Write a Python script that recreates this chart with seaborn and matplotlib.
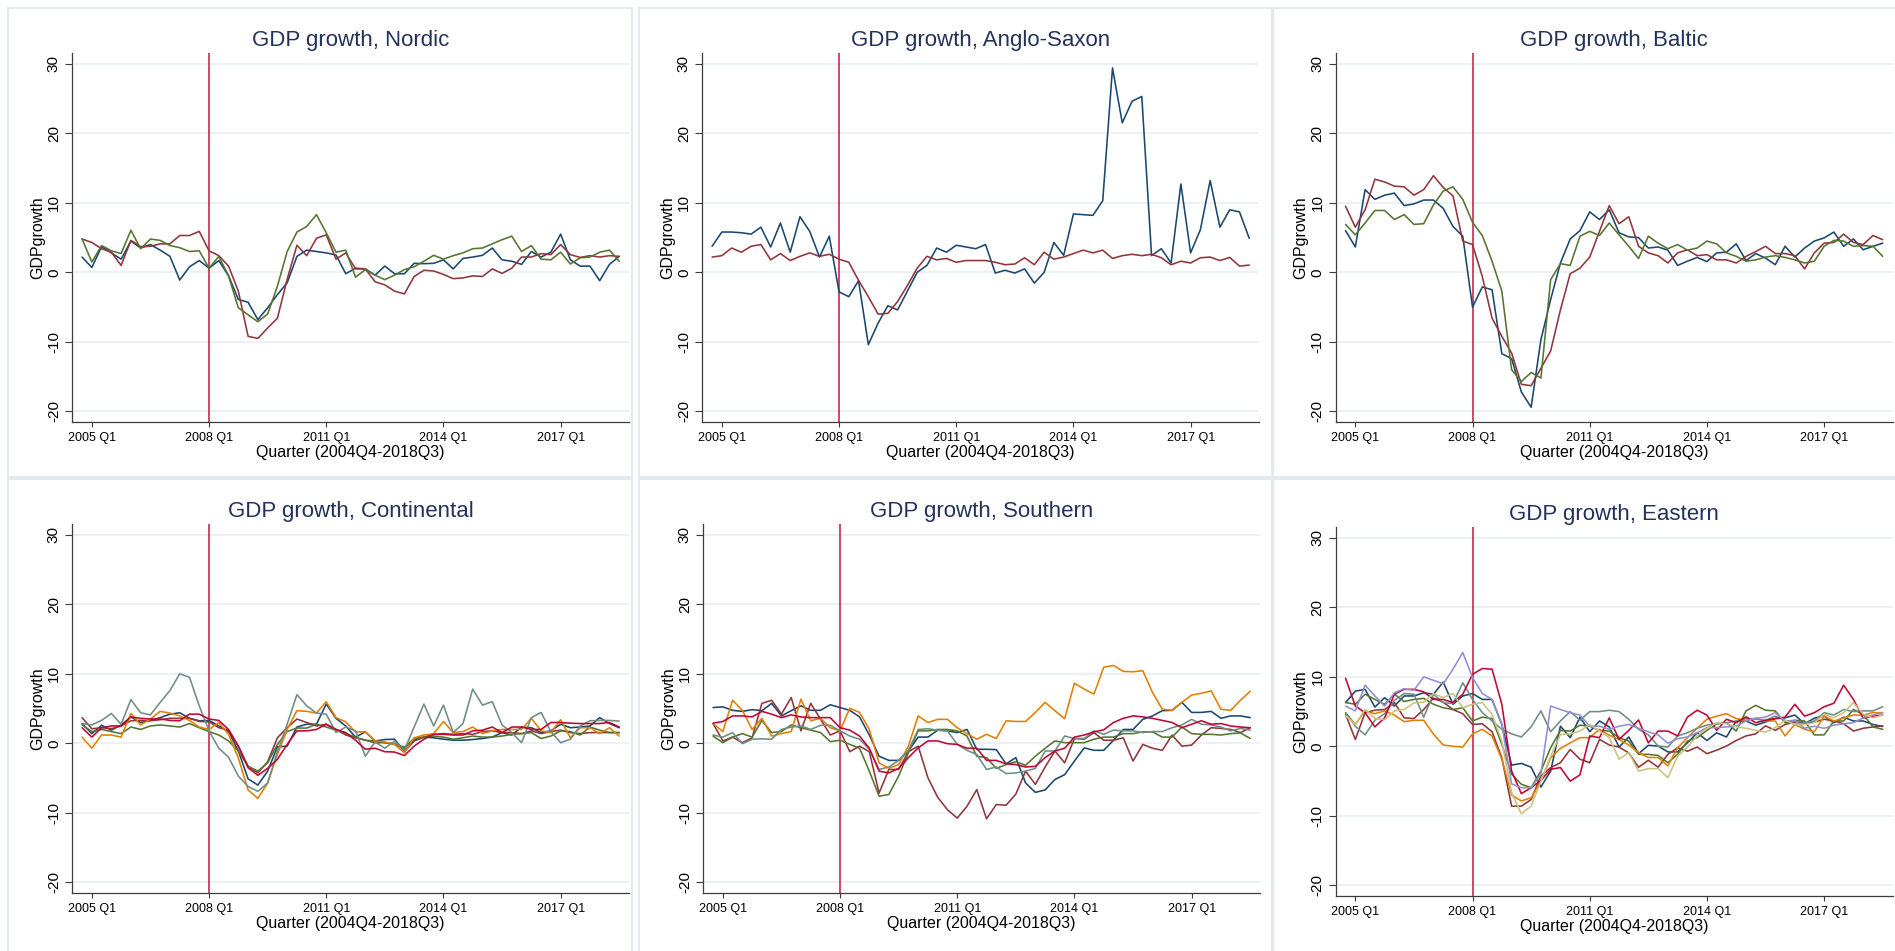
import matplotlib
matplotlib.use("Agg")
import matplotlib.pyplot as plt
from matplotlib.patches import Rectangle
import seaborn as sns
import pandas as pd
import numpy as np

# ---------------- data ----------------
QUARTERS = [f"{y}Q{q}" for y in range(2004, 2019) for q in range(1, 5)][3:59]  # 2004Q4..2018Q3
TICK_LABELS = ["2005 Q1", "2008 Q1", "2011 Q1", "2014 Q1", "2017 Q1"]
CRISIS_QUARTER = "2008Q1"
Y_TICKS = [-20, -10, 0, 10, 20, 30]
X_TITLE = "Quarter (2004Q4-2018Q3)"
Y_TITLE = "GDPgrowth"

NORDIC_1 = [2.2, 0.7, 3.7, 2.8, 1.9, 4.5, 3.5, 4.0, 3.2, 2.3,
            -1.1, 0.8, 1.7, 0.6, 1.7, -0.5, -3.9, -4.3, -6.8, -5.1,
            -3.2, -1.5, 2.3, 3.2, 3.0, 2.8, 2.5, -0.2, 0.6, 0.5,
            -0.4, 0.9, -0.2, -0.2, 1.3, 1.25, 1.3, 1.8, 0.5, 2.0,
            2.2, 2.45, 3.5, 1.8, 1.6, 1.15, 3.0, 2.2, 2.9, 5.5,
            1.8, 0.9, 0.9, -1.2, 1.15, 2.3]
NORDIC_2 = [4.8, 4.3, 3.4, 2.9, 1.0, 4.6, 3.7, 3.75, 4.1, 4.1,
            5.3, 5.3, 5.9, 3.1, 2.4, 0.9, -2.7, -9.2, -9.5, -8.0,
            -6.6, -1.0, 3.9, 2.4, 4.9, 5.4, 1.9, 2.8, 0.5, 0.5,
            -1.35, -1.8, -2.7, -3.1, -0.6, 0.3, 0.2, -0.3, -0.9, -0.8,
            -0.5, -0.6, 0.5, -0.15, 0.6, 2.2, 2.2, 2.7, 2.55, 4.0,
            2.55, 2.15, 2.4, 2.2, 2.4, 2.3]
NORDIC_3 = [4.8, 1.5, 3.85, 3.1, 2.7, 6.05, 3.4, 4.8, 4.6, 3.85,
            3.55, 3.0, 3.1, 0.6, 2.3, -0.5, -5.1, -6.1, -7.1, -6.0,
            -2.0, 3.0, 5.8, 6.6, 8.3, 5.7, 2.9, 3.2, -0.7, 0.4,
            -0.4, -1.05, -0.4, 0.4, 0.8, 1.6, 2.45, 1.9, 2.4, 2.8,
            3.4, 3.5, 4.1, 4.7, 5.2, 3.0, 3.85, 1.9, 1.8, 2.9,
            1.2, 2.1, 2.2, 2.9, 3.2, 1.6]

ANGLO_1 = [3.75, 5.8, 5.8, 5.7, 5.5, 6.5, 3.65, 7.1, 2.9, 8.0,
           5.9, 2.2, 5.2, -2.8, -3.5, -1.2, -10.4, -7.3, -4.8, -5.4,
           -2.7, 0.0, 1.0, 3.5, 2.9, 3.9, 3.65, 3.4, 4.0, -0.1,
           0.3, -0.1, 0.5, -1.55, 0.0, 4.3, 2.45, 8.4, 8.3, 8.2,
           10.3, 29.4, 21.5, 24.6, 25.3, 2.4, 3.4, 1.35, 12.7, 2.8,
           6.15, 13.2, 6.5, 9.0, 8.7, 4.9]
ANGLO_2 = [2.2, 2.4, 3.5, 2.9, 3.75, 4.0, 1.8, 2.7, 1.7, 2.3,
           2.8, 2.3, 2.6, 1.9, 1.45, -1.15, -3.5, -6.0, -5.9, -4.2,
           -1.9, 0.6, 2.3, 1.8, 2.0, 1.45, 1.7, 1.7, 1.7, 1.45,
           1.1, 1.2, 2.1, 1.1, 2.9, 1.9, 2.2, 2.7, 3.2, 2.8,
           3.2, 2.0, 2.4, 2.6, 2.4, 2.6, 2.1, 1.1, 1.6, 1.35,
           2.1, 2.2, 1.7, 2.15, 0.9, 1.05]

BALTIC_1 = [6.0, 3.65, 11.9, 10.5, 11.1, 11.4, 9.6, 9.85, 10.4, 10.4,
            9.2, 6.6, 5.2, -5.0, -2.1, -2.5, -11.7, -12.4, -17.2, -19.4,
            -9.7, -3.9, 1.35, 4.8, 6.0, 8.7, 7.6, 9.0, 5.7, 5.1,
            5.0, 3.5, 3.65, 3.2, 1.0, 1.6, 2.15, 1.55, 2.8, 2.9,
            4.1, 1.7, 2.7, 2.05, 1.1, 3.75, 2.2, 3.5, 4.5, 4.95,
            5.8, 3.75, 4.8, 3.25, 3.75, 4.2]
BALTIC_2 = [9.5, 6.5, 9.0, 13.4, 13.0, 12.4, 12.3, 11.1, 11.9, 13.9,
            12.2, 11.0, 4.5, 4.0, -0.6, -6.6, -9.2, -11.6, -16.1, -16.3,
            -13.8, -11.3, -5.4, -0.2, 0.6, 2.2, 5.9, 9.6, 7.0, 8.0,
            3.75, 2.8, 2.4, 1.35, 2.8, 3.25, 2.4, 2.55, 1.8, 1.8,
            1.35, 2.3, 3.0, 3.75, 2.7, 2.7, 2.4, 0.5, 2.8, 4.2,
            4.3, 5.5, 4.3, 4.0, 5.3, 4.7]
BALTIC_3 = [6.9, 5.4, 7.1, 8.9, 8.9, 7.6, 8.3, 6.9, 7.0, 9.7,
            11.7, 12.3, 10.5, 7.2, 5.3, 1.6, -2.7, -14.0, -15.7, -14.4,
            -15.2, -1.05, 1.25, 1.0, 5.2, 5.9, 5.3, 7.1, 5.4, 3.75,
            2.0, 5.2, 4.2, 3.4, 4.0, 3.2, 3.5, 4.5, 4.1, 2.8,
            2.3, 1.6, 1.8, 2.2, 2.4, 2.15, 1.8, 1.35, 1.6, 3.75,
            4.6, 4.5, 3.75, 3.85, 3.75, 2.3]

CONT_1 = [2.85, 1.4, 2.6, 1.9, 2.65, 3.8, 3.0, 3.3, 3.7, 4.2,
          4.4, 3.6, 3.25, 3.3, 2.5, 1.7, -1.1, -5.1, -6.0, -4.0,
          -0.5, -0.4, 2.35, 2.75, 2.75, 5.65, 3.6, 2.5, 0.9, 1.65,
          0.35, 0.55, 0.6, -1.2, 0.35, 0.9, 0.8, 0.6, 0.45, 0.45,
          0.55, 0.7, 0.9, 1.55, 1.2, 2.35, 2.25, 1.55, 1.8, 2.75,
          2.25, 2.35, 2.5, 3.7, 2.85, 2.25]
CONT_2 = [3.7, 2.1, 2.25, 2.1, 2.5, 3.25, 3.3, 3.25, 3.4, 3.6,
          3.6, 3.6, 3.15, 3.1, 2.25, 1.9, -0.4, -3.3, -4.25, -2.65,
          0.8, 2.25, 3.5, 3.0, 2.5, 2.75, 2.0, 1.2, 0.8, 0.45,
          0.1, 0.1, -0.15, -0.7, 0.45, 0.9, 1.3, 1.4, 1.3, 1.4,
          1.3, 1.7, 1.8, 1.55, 1.55, 1.4, 1.8, 1.4, 1.7, 1.9,
          1.55, 1.4, 1.55, 1.55, 1.55, 1.55]
CONT_3 = [2.65, 1.7, 2.0, 1.7, 1.4, 2.35, 2.0, 2.5, 2.65, 2.5,
          2.35, 2.85, 2.25, 1.7, 1.2, 0.35, -1.1, -3.3, -4.0, -2.8,
          -0.15, 1.7, 2.2, 2.2, 2.75, 2.35, 1.9, 1.4, 0.9, 0.45,
          0.35, 0.1, -0.05, -0.55, 0.7, 0.9, 1.05, 0.9, 0.6, 0.8,
          1.05, 0.9, 0.9, 1.05, 1.3, 1.4, 1.55, 0.7, 1.05, 1.8,
          1.7, 1.2, 2.35, 1.9, 1.55, 1.55]
CONT_4 = [0.9, -0.7, 1.2, 1.2, 0.9, 4.3, 2.65, 3.5, 4.6, 4.35,
          3.95, 3.3, 2.35, 2.0, 3.0, 1.3, -2.1, -6.7, -7.9, -5.7,
          -1.6, 2.0, 4.7, 4.6, 4.35, 6.0, 3.7, 3.1, 1.65, 1.65,
          0.35, 0.2, -0.15, -1.35, 0.8, 1.2, 1.4, 3.15, 1.55, 1.7,
          2.35, 1.4, 1.8, 2.0, 2.0, 2.0, 3.6, 1.8, 1.55, 3.4,
          0.8, 2.25, 2.25, 1.4, 2.25, 1.05]
CONT_5 = [2.85, 2.65, 3.3, 4.3, 2.75, 6.3, 4.4, 4.1, 5.9, 7.6,
          10.0, 9.5, 5.4, 1.8, -0.7, -2.0, -4.7, -6.2, -6.9, -5.7,
          -1.2, 2.75, 7.0, 5.4, 4.35, 4.2, 1.55, 2.35, 1.8, -1.85,
          0.2, -0.7, 0.35, -1.0, 2.35, 5.65, 2.5, 5.5, 1.55, 2.85,
          7.8, 5.5, 6.0, 2.65, 1.55, 0.1, 3.7, 4.45, 1.7, 0.1,
          0.6, 2.5, 3.25, 3.3, 3.3, 3.2]
CONT_6 = [2.25, 0.9, 2.25, 2.5, 2.5, 3.8, 3.6, 3.5, 3.5, 3.3,
          3.25, 4.2, 4.2, 3.5, 3.3, 2.0, -0.4, -3.5, -4.6, -3.6,
          -2.3, -0.15, 1.8, 1.8, 2.0, 2.75, 2.0, 1.55, 0.45, -0.85,
          -0.7, -1.2, -1.25, -1.75, -0.4, 0.6, 1.3, 1.3, 1.2, 1.2,
          1.8, 1.9, 2.35, 1.55, 2.35, 2.35, 2.0, 2.0, 3.0, 3.0,
          2.9, 2.85, 2.85, 2.85, 3.0, 2.35]

SOUTH_1 = [5.15, 5.25, 4.75, 4.6, 4.85, 4.7, 5.75, 3.95, 4.7, 5.4,
           4.75, 4.75, 5.55, 5.15, 4.75, 3.8, 1.2, -1.85, -2.45, -2.45,
           -1.1, 0.9, 0.9, 1.9, 1.8, 1.55, 2.0, -0.85, -0.85, -0.9,
           -2.95, -2.05, -5.7, -7.05, -6.7, -5.2, -4.5, -2.55, -0.65, -1.0,
           -1.0, 0.45, 2.0, 2.0, 3.45, 3.95, 4.7, 4.75, 5.9, 4.45,
           4.45, 4.6, 3.6, 3.95, 3.95, 3.7]
SOUTH_2 = [2.85, 0.35, 0.9, 0.1, 0.8, 5.75, 6.2, 4.2, 6.6, 1.8,
           5.75, 3.5, 1.2, 1.8, -1.2, -0.4, -1.2, -7.15, -3.75, -3.75,
           -1.2, -0.4, -4.95, -7.75, -9.55, -10.75, -9.05, -6.65, -10.85, -8.8,
           -8.9, -7.3, -4.0, -5.9, -3.4, -1.1, -2.8, 0.7, 0.6, 1.55,
           0.45, 0.45, 0.8, -2.55, -0.15, -0.7, -1.0, 1.2, -0.4, -0.25,
           1.2, 2.25, 2.15, 2.0, 1.55, 2.25]
SOUTH_3 = [1.05, 0.1, 0.9, 1.4, 0.9, 3.3, 1.55, 1.7, 2.65, 2.25,
           1.9, 1.55, 0.25, 0.45, -0.15, -0.7, -4.0, -7.6, -7.35, -4.7,
           -1.35, 1.8, 1.8, 2.0, 2.0, 1.8, 1.05, -1.85, -2.05, -3.6,
           -3.05, -2.65, -3.15, -1.85, -0.7, 0.35, 0.1, 0.1, 0.1, 0.6,
           0.9, 0.9, 1.4, 1.4, 1.65, 1.65, 0.9, 0.9, 2.35, 1.4,
           1.3, 1.3, 1.2, 1.4, 1.5, 0.7]
SOUTH_4 = [2.85, 1.7, 6.2, 4.75, 2.0, 3.6, 1.05, 1.4, 1.7, 6.35,
           3.25, 3.6, 2.25, 1.8, 5.05, 4.45, 2.0, -2.8, -3.6, -3.05,
           -0.4, 3.95, 3.0, 3.45, 3.45, 2.25, 1.4, 0.6, 1.3, 0.7,
           3.25, 3.15, 3.15, 4.45, 5.9, 4.7, 3.55, 8.65, 7.8, 7.1,
           10.95, 11.2, 10.35, 10.3, 10.45, 7.3, 4.9, 4.75, 5.9, 6.95,
           7.2, 7.55, 4.9, 4.75, 6.2, 7.5]
SOUTH_5 = [1.2, 0.9, 1.55, -0.05, 0.6, 0.65, 0.6, 2.0, 2.35, 2.5,
           2.0, 2.6, 2.6, 1.8, 1.05, 0.6, -0.85, -3.75, -3.4, -2.45,
           -1.0, 2.0, 2.1, 1.9, 1.8, -0.15, -1.0, -1.6, -3.75, -3.4,
           -4.35, -4.25, -4.0, -3.6, -1.1, -1.1, 1.05, 0.7, 0.7, 1.8,
           1.3, 1.9, 1.8, 1.8, 1.55, 1.7, 1.7, 2.25, 2.65, 3.45,
           2.75, 2.65, 2.35, 1.8, 2.15, 1.9]
SOUTH_6 = [2.9, 3.15, 3.95, 3.95, 3.8, 4.6, 4.2, 3.7, 4.1, 3.8,
           3.7, 3.7, 3.7, 2.25, 1.9, 1.05, -0.7, -4.0, -4.25, -3.6,
           -2.05, -0.65, 0.35, 0.35, -0.05, -0.15, -0.7, -0.7, -2.45, -2.45,
           -2.95, -3.05, -3.4, -3.3, -2.05, -1.1, -0.7, 0.9, 1.2, 1.65,
           1.95, 3.0, 3.6, 3.95, 3.8, 3.6, 3.3, 3.0, 2.25, 2.75,
           3.25, 2.75, 2.85, 2.5, 2.35, 2.25]

EAST_1 = [6.3, 7.95, 8.2, 5.65, 7.0, 5.8, 7.25, 7.25, 7.7, 7.5,
          9.25, 6.05, 7.25, 7.6, 6.75, 6.75, 3.15, -2.7, -2.45, -3.0,
          -5.85, -3.55, 2.9, 1.25, 4.2, 2.1, 3.65, 2.8, -0.1, 1.35,
          -1.05, 0.15, 0.05, -0.8, -0.8, 0.5, 1.95, 0.85, 1.95, 1.35,
          3.65, 3.65, 3.05, 3.5, 4.0, 4.1, 4.5, 3.25, 4.05, 4.35,
          3.4, 4.2, 3.65, 3.65, 3.15, 2.85]
EAST_2 = [4.6, 1.0, 4.85, 5.2, 5.3, 6.3, 4.1, 4.0, 5.3, 6.95,
          6.35, 5.3, 4.7, 3.15, 3.25, 2.1, -1.65, -8.6, -8.6, -7.65,
          -4.25, -3.05, -2.35, -0.45, -1.85, -2.35, 1.0, 0.2, -0.1, -0.95,
          -3.0, -2.0, -3.0, -1.15, -0.2, -0.7, -0.1, -1.05, -0.55, 0.05,
          0.85, 1.5, 1.8, 2.95, 2.3, 3.15, 3.5, 3.4, 3.5, 3.9,
          3.65, 3.25, 2.2, 2.6, 2.8, 2.95]
EAST_3 = [6.3, 6.05, 7.5, 6.75, 6.05, 7.5, 6.45, 6.75, 6.9, 6.05,
          5.55, 5.3, 5.55, 3.65, 4.2, 4.0, 0.3, -4.0, -5.45, -5.95,
          -3.55, -0.2, 2.3, 2.2, 3.05, 2.9, 2.3, 2.2, 1.25, 0.75,
          -1.15, -1.15, -1.3, -2.35, -1.15, 0.75, 1.25, 2.3, 3.25, 3.4,
          2.2, 5.1, 5.9, 5.2, 5.1, 3.4, 3.75, 3.65, 1.65, 1.65,
          3.65, 3.65, 5.3, 4.6, 2.8, 2.45]
EAST_4 = [4.85, 3.15, 5.1, 4.7, 5.1, 4.5, 3.55, 3.75, 3.75, 1.75,
          0.2, 0.0, -0.1, 1.8, 2.45, 1.5, -1.85, -7.0, -7.85, -7.4,
          -5.0, -1.65, -0.3, 0.5, 1.25, 1.25, 2.45, 1.6, 1.0, 0.2,
          -0.9, -1.6, -1.6, -2.8, -0.2, 1.25, 2.6, 3.9, 4.35, 4.7,
          4.0, 3.75, 4.05, 3.65, 3.65, 1.5, 3.15, 2.45, 2.1, 4.35,
          3.65, 4.1, 4.5, 4.5, 4.85, 4.85]
EAST_5 = [4.85, 2.9, 1.65, 3.75, 4.7, 6.6, 7.6, 7.5, 4.2, 7.5,
          6.3, 6.15, 9.15, 6.75, 4.85, 3.65, 2.45, 1.8, 1.35, 2.8,
          5.1, 2.1, 3.65, 5.0, 3.75, 5.0, 5.0, 5.2, 5.0, 3.9,
          2.45, 1.65, 0.05, -0.1, 1.5, 1.95, 2.6, 3.05, 3.25, 3.4,
          3.65, 4.05, 3.9, 3.75, 4.35, 3.75, 3.15, 3.4, 3.65, 4.85,
          4.5, 5.3, 5.0, 5.1, 5.1, 5.7]
EAST_6 = [9.8, 5.8, 4.85, 2.8, 4.1, 7.5, 8.2, 8.2, 7.85, 6.75,
          6.75, 6.3, 7.5, 10.35, 11.2, 11.1, 6.05, -3.55, -6.8, -5.95,
          -4.9, -3.3, -3.05, -5.0, -4.1, 1.5, 1.25, 4.1, 1.0, 2.3,
          3.8, 0.5, 2.2, 2.2, 1.5, 4.2, 5.2, 4.5, 2.3, 3.9,
          3.4, 4.25, 3.4, 3.75, 4.0, 4.2, 6.05, 4.35, 4.85, 5.7,
          6.2, 8.8, 6.75, 4.05, 4.35, 4.5]
EAST_7 = [5.8, 5.1, 8.8, 7.25, 5.8, 7.7, 8.3, 8.05, 10.0, 9.5,
          9.0, 11.1, 13.5, 9.9, 7.6, 6.75, 3.15, -5.4, -5.95, -5.95,
          -4.0, 5.8, 5.3, 4.85, 4.5, 2.9, 2.9, 2.45, 2.9, 3.15,
          2.6, 2.1, 1.65, 0.45, 1.1, 1.35, 1.95, 2.7, 2.7, 2.8,
          2.9, 3.65, 4.05, 4.2, 4.85, 3.65, 3.75, 2.6, 2.9, 2.6,
          3.05, 3.25, 3.4, 4.1, 4.5, 4.85]
EAST_8 = [4.4, 3.15, 5.3, 4.0, 3.85, 5.1, 5.3, 6.25, 6.35, 7.6,
          7.0, 7.6, 5.55, 6.05, 6.3, 4.6, 0.75, -6.65, -9.7, -8.6,
          -5.0, -1.4, 1.7, 1.8, 2.2, 3.15, 2.2, 1.25, -1.85, -0.9,
          -3.55, -3.2, -3.2, -4.5, -1.4, -0.1, 1.5, 2.6, 3.4, 3.25,
          2.8, 2.6, 2.3, 2.05, 2.7, 3.75, 3.15, 3.15, 3.4, 4.6,
          4.1, 4.85, 6.3, 4.6, 4.1, 4.5]

TITLES = ["GDP growth, Nordic", "GDP growth, Anglo-Saxon", "GDP growth, Baltic",
          "GDP growth, Continental", "GDP growth, Southern", "GDP growth, Eastern"]
PANEL_SERIES = [
    [NORDIC_1, NORDIC_2, NORDIC_3],
    [ANGLO_1, ANGLO_2],
    [BALTIC_1, BALTIC_2, BALTIC_3],
    [CONT_1, CONT_2, CONT_3, CONT_4, CONT_5, CONT_6],
    [SOUTH_1, SOUTH_2, SOUTH_3, SOUTH_4, SOUTH_5, SOUTH_6],
    [EAST_1, EAST_2, EAST_3, EAST_4, EAST_5, EAST_6, EAST_7, EAST_8],
]

# ---------------- style ----------------
SERIES_COLORS = ["#1a476f", "#90353b", "#55752f", "#e37e00",
                 "#6e8e84", "#c10534", "#938dd2", "#cac27e"]
TITLE_COLOR = "#23325a"
VLINE_COLOR = "#c8143c"
GRID_COLOR = "#e6eef1"
FRAME_COLOR = "#e0e8ec"

sns.set_style("white")
plt.rcParams["font.family"] = ["Liberation Sans", "DejaVu Sans"]

W, H = 1895, 951
fig = plt.figure(figsize=(W / 100, H / 100), dpi=100)
fig.patch.set_facecolor("white")

# panel frames (pixel boxes: x0, y0, x1, y1 from top-left)
FRAMES = [(8, 8, 632, 477), (639, 8, 1272, 477), (1273, 8, 1900, 477),
          (8, 479, 632, 960), (639, 479, 1272, 960), (1273, 479, 1900, 960)]
for x0, y0, x1, y1 in FRAMES:
    fig.add_artist(Rectangle((x0 / W, 1 - y1 / H), (x1 - x0) / W, (y1 - y0) / H,
                             transform=fig.transFigure, fill=False,
                             ec=FRAME_COLOR, lw=1.3, zorder=0))

AX_W, AX_H = 557, 368.5
AX_POS = [(72, 53), (702, 53), (1335.5, 53),
          (72, 524), (703, 524), (1335.5, 527)]

q_idx = np.arange(len(QUARTERS))
tick_pos = [QUARTERS.index(t.replace(" ", "")) for t in TICK_LABELS]
crisis_pos = QUARTERS.index(CRISIS_QUARTER)

for title, series, (left, top) in zip(TITLES, PANEL_SERIES, AX_POS):
    ax = fig.add_axes([left / W, 1 - (top + AX_H) / H, AX_W / W, AX_H / H])
    rows = []
    for k, vals in enumerate(series):
        rows.append(pd.DataFrame({"q": q_idx, "growth": vals, "series": f"s{k}"}))
    df = pd.concat(rows, ignore_index=True)
    sns.lineplot(data=df, x="q", y="growth", hue="series",
                 palette=SERIES_COLORS[:len(series)], estimator=None,
                 linewidth=1.15, legend=False, ax=ax, zorder=3)
    ax.axvline(crisis_pos, color=VLINE_COLOR, lw=1.1, zorder=2)

    ax.set_xlim(-1.03, 56.0)
    ax.set_ylim(-21.45, 31.55)
    ax.set_yticks(Y_TICKS)
    ax.set_yticklabels([str(v) for v in Y_TICKS])
    ax.set_xticks(tick_pos)
    ax.set_xticklabels(TICK_LABELS)
    ax.grid(False)
    ax.grid(axis="y", color=GRID_COLOR, lw=1.1, zorder=0)
    ax.set_axisbelow(True)

    for s in ("top", "right"):
        ax.spines[s].set_visible(False)
    for s in ("left", "bottom"):
        ax.spines[s].set_color("#3c3c3c")
        ax.spines[s].set_linewidth(0.9)

    ax.tick_params(axis="x", length=3.5, width=0.8, pad=4, labelsize=9,
                   color="#3c3c3c", labelcolor="black", bottom=True)
    ax.tick_params(axis="y", length=5, width=0.8, pad=3, labelsize=11,
                   color="#3c3c3c", labelcolor="black", left=True, labelrotation=90)
    for lbl in ax.get_yticklabels():
        lbl.set_va("center")

    ax.set_title(title, fontsize=16, color=TITLE_COLOR, pad=5)
    ax.set_xlabel(X_TITLE, fontsize=11.5, color="black")
    ax.xaxis.set_label_coords(0.5, -0.064)
    ax.set_ylabel(Y_TITLE, fontsize=11.5, color="black")
    ax.yaxis.set_label_coords(-0.0485, 0.5)

fig.savefig("out.png", dpi=100, facecolor="white")
